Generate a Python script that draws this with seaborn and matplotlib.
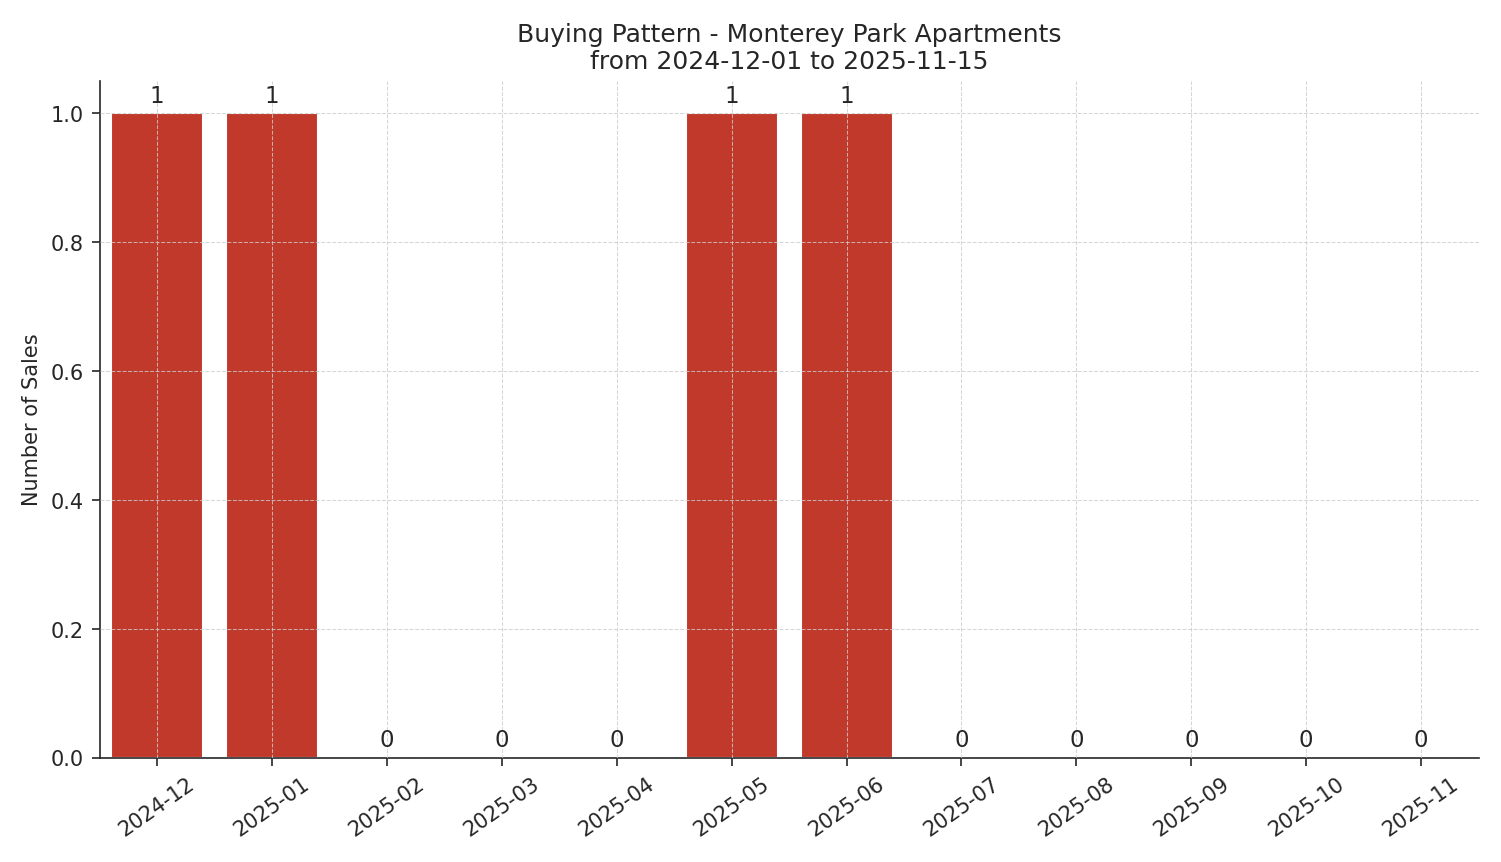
import matplotlib
matplotlib.use("Agg")
import matplotlib.pyplot as plt
import seaborn as sns
import pandas as pd

months = ["2024-12", "2025-01", "2025-02", "2025-03", "2025-04", "2025-05",
          "2025-06", "2025-07", "2025-08", "2025-09", "2025-10", "2025-11"]
sales = [1, 1, 0, 0, 0, 1, 1, 0, 0, 0, 0, 0]

df = pd.DataFrame({"month": months, "sales": sales})

sns.set_style("white")
plt.rcParams['font.family'] = ['DejaVu Sans']
fig, ax = plt.subplots(figsize=(10.007, 5.753), dpi=150)
sns.barplot(data=df, x="month", y="sales", color="#c0392b", saturation=1, width=0.8, ax=ax)
for c in ax.containers:
    ax.bar_label(c, labels=[str(v) for v in sales], padding=3, fontsize=11)

ax.set_axisbelow(False)
ax.grid(True, linestyle="--", linewidth=0.5, color="#cccccc", alpha=0.8)
ax.set_xlabel("")
ax.set_ylabel("Number of Sales")
ax.set_ylim(0, 1.05)
ax.set_title("Buying Pattern - Monterey Park Apartments\nfrom 2024-12-01 to 2025-11-15", fontsize=12)
ax.tick_params(axis="x", rotation=35, length=4)
ax.tick_params(axis="y", length=4)
ax.tick_params(bottom=True, left=True)
sns.despine(ax=ax)
fig.tight_layout()
fig.savefig("out.png", dpi=150)
